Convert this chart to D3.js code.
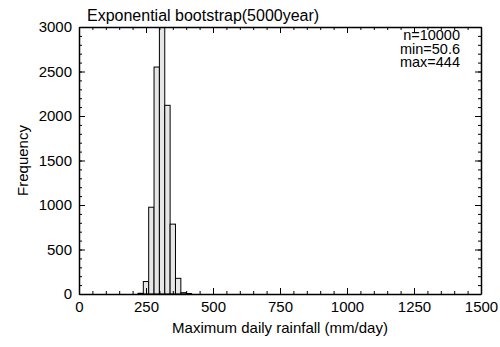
<!DOCTYPE html>
<html>
<head>
<meta charset="utf-8">
<script src="https://cdn.jsdelivr.net/npm/d3@7"></script>
<style>
  body { margin: 0; background: #fff; }
  text { font-family: "Liberation Sans", Arial, sans-serif; }
</style>
</head>
<body>
<div id="chart"></div>
<script>
// histogram bins (mm/day), width 20
const binStarts = [220, 240, 260, 280, 300, 320, 340, 360, 380, 400];
const binWidth = 20;
const counts = [8, 140, 975, 2550, 3220, 2120, 785, 176, 15, 5];

const xTicks = [0, 250, 500, 750, 1000, 1250, 1500];
const yTicks = [0, 500, 1000, 1500, 2000, 2500, 3000];
const statLines = ["n=10000", "min=50.6", "max=444"];

const width = 500, height = 347;
const margin = {top: 27, right: 19, bottom: 53, left: 79};

const svg = d3.select("#chart").append("svg")
  .attr("width", width)
  .attr("height", height);

const x = d3.scaleLinear().domain([0, 1500]).range([margin.left, width - margin.right]);
const y = d3.scaleLinear().domain([0, 3000]).range([height - margin.bottom, margin.top]);

svg.append("clipPath").attr("id", "plot-clip")
  .append("rect")
  .attr("x", x(0)).attr("y", y(3000))
  .attr("width", x(1500) - x(0)).attr("height", y(0) - y(3000));

// bars
svg.append("g").attr("clip-path", "url(#plot-clip)")
  .selectAll("rect")
  .data(binStarts.map((b, i) => ({x0: b, x1: b + binWidth, n: counts[i]})))
  .join("rect")
  .attr("x", d => x(d.x0))
  .attr("y", d => y(d.n))
  .attr("width", d => x(d.x1) - x(d.x0))
  .attr("height", d => y(0) - y(d.n))
  .attr("fill", "#e6e6e6")
  .attr("stroke", "#000")
  .attr("stroke-width", 1);

// axes with inward ticks, minor and major
function drawAxis(axisFn, scale, major, minor, transform, labels) {
  const gMinor = svg.append("g").attr("transform", transform)
    .call(axisFn(scale).tickValues(minor).tickSize(-3).tickSizeOuter(0).tickFormat(""));
  gMinor.select(".domain").remove();
  const g = svg.append("g").attr("transform", transform)
    .call(axisFn(scale).tickValues(major).tickSize(-6).tickSizeOuter(0)
      .tickFormat(labels ? d3.format("d") : ""));
  g.select(".domain").attr("stroke-width", 1.5);
  g.selectAll(".tick line").attr("stroke-width", 1);
  gMinor.selectAll(".tick line").attr("stroke-width", 1);
  g.selectAll("text").attr("font-size", 15).attr("fill", "#000");
  return g;
}

const xMinor = d3.range(0, 1501, 50);
const yMinor = d3.range(0, 3001, 100);

const gx = drawAxis(d3.axisBottom, x, xTicks, xMinor, `translate(0,${y(0)})`, true);
gx.selectAll("text").attr("y", 7).attr("dy", "0.71em");
drawAxis(d3.axisTop, x, xTicks, xMinor, `translate(0,${y(3000)})`, false);
const gy = drawAxis(d3.axisLeft, y, yTicks, yMinor, `translate(${x(0)},0)`, true);
gy.selectAll("text").attr("x", -7);
drawAxis(d3.axisRight, y, yTicks, yMinor, `translate(${x(1500)},0)`, false);

// title
svg.append("text")
  .attr("x", 87).attr("y", 21)
  .attr("font-size", 16)
  .text("Exponential bootstrap(5000year)");

// stats
svg.append("g").selectAll("text")
  .data(statLines)
  .join("text")
  .attr("x", 460)
  .attr("y", (d, i) => 40 + i * 13.5)
  .attr("text-anchor", "end")
  .attr("font-size", 14.5)
  .text(d => d);

// axis labels
svg.append("text")
  .attr("x", 280).attr("y", 333)
  .attr("text-anchor", "middle")
  .attr("font-size", 15)
  .text("Maximum daily rainfall (mm/day)");

svg.append("text")
  .attr("transform", `translate(28,${(y(0) + y(3000)) / 2}) rotate(-90)`)
  .attr("text-anchor", "middle")
  .attr("font-size", 15)
  .text("Frequency");
</script>
</body>
</html>
